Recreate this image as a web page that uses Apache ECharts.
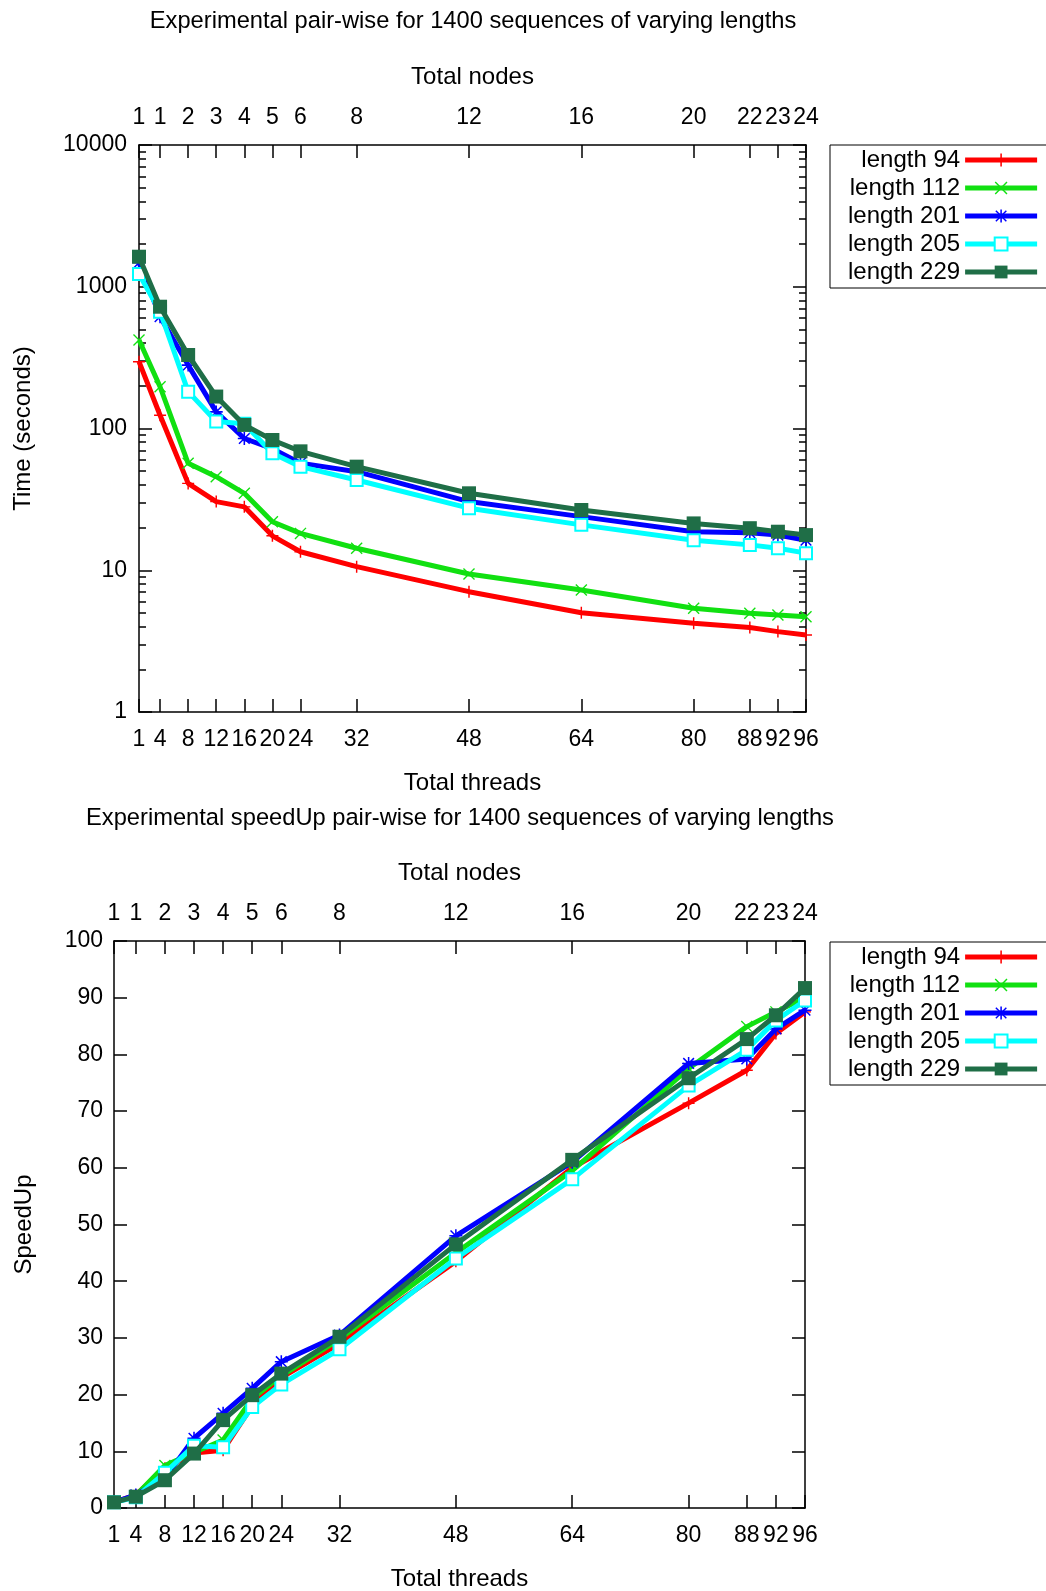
<!DOCTYPE html>
<html><head><meta charset="utf-8">
<script src="https://cdn.jsdelivr.net/npm/echarts@6/dist/echarts.min.js"></script>
<style>html,body{margin:0;padding:0;background:#fff}#c{width:1046px;height:1591px}</style>
</head><body><div id="c"></div>
<script>
// ---- data ----
const threads = [1, 4, 8, 12, 16, 20, 24, 32, 48, 64, 80, 88, 92, 96];
const nodes   = [1, 1, 2, 3, 4, 5, 6, 8, 12, 16, 20, 22, 23, 24];
const seriesNames = ['length 94', 'length 112', 'length 201', 'length 205', 'length 229'];

const time94  = [296, 124, 41, 30.5, 28, 17.5, 13.5, 10.6, 7.06, 5.02, 4.23, 3.94, 3.69, 3.49];
const time112 = [421, 197, 56.8, 45.7, 34.9, 22, 18.2, 14.3, 9.4, 7.26, 5.39, 4.97, 4.83, 4.7];
const time201 = [1480, 615, 280, 131, 85, 72, 57, 49.6, 30.5, 23.9, 18.7, 18.4, 17.7, 16.3];
const time205 = [1230, 667, 182, 112, 108, 66.8, 53.8, 43.3, 27.4, 20.9, 16.3, 15.1, 14.3, 13.2];
const time229 = [1629, 723, 330, 168, 106, 83, 69, 53.8, 34.9, 26.6, 21.4, 19.8, 18.7, 17.7];

const speed94  = [1, 2.3, 7.0, 9.7, 10.2, 18, 23, 29, 43.5, 60, 71.4, 77.2, 83.7, 87.5];
const speed112 = [1, 2.2, 7.5, 9.8, 12, 19.3, 23.3, 29.8, 45, 59.5, 77.5, 84.9, 87.5, 90];
const speed201 = [1, 2.3, 5.3, 12.3, 16.7, 21.1, 25.8, 30.5, 48, 61, 78.4, 79.2, 84.5, 87.8];
const speed205 = [1, 1.9, 6.2, 11, 10.7, 17.8, 21.8, 28, 44, 58, 74.5, 80.8, 86, 89.5];
const speed229 = [1, 2.0, 4.9, 9.6, 15.5, 19.9, 23.7, 30.2, 46.5, 61.4, 75.8, 82.7, 86.9, 91.7];

const timeTicks  = [1, 10, 100, 1000, 10000];
const timeMinorTicks = [2,3,4,5,6,7,8,9, 20,30,40,50,60,70,80,90, 200,300,400,500,600,700,800,900, 2000,3000,4000,5000,6000,7000,8000,9000];
const speedTicks = [0, 10, 20, 30, 40, 50, 60, 70, 80, 90, 100];

// ---- styles ----
const FONT = '"Liberation Sans", Arial, sans-serif';
const FS = 23;
const colors = ['#ff0000', '#11e011', '#0000ff', '#00ffff', '#1f6e47'];
const PLUS = 'path://M4.4,0H5.6V10H4.4Z M0,4.4H10V5.6H0Z';
const CROSS = 'path://M0,0.8L0.8,0L10,9.2L9.2,10Z M9.2,0L10,0.8L0.8,10L0,9.2Z';
const STAR = 'path://M4.4,0H5.6V10H4.4Z M0,4.4H10V5.6H0Z M0.5,1.3L1.3,0.5L9.5,8.7L8.7,9.5Z M8.7,0.5L9.5,1.3L1.3,9.5L0.5,8.7Z';
const symbols = [PLUS, CROSS, STAR, 'emptyRect', 'rect'];
const symbolSizes = [12, 12, 13, 12, 14];
const txt = {fontSize: FS, fontFamily: FONT, color: '#000'};
const nameTxt = {fontSize: 24, fontFamily: FONT, color: '#000'};
const axLine = {show: true, onZero: false, lineStyle: {color: '#000', width: 1.5}};
const tkStyle = {color: '#000', width: 1.5};

function xAxesFor(gi) {
  return [
    {type: 'value', gridIndex: gi, position: 'bottom', min: 1, max: 96,
     name: 'Total threads', nameLocation: 'middle', nameGap: 59, nameTextStyle: nameTxt,
     axisLine: axLine, splitLine: {show: false},
     axisTick: {show: true, inside: true, length: 13, customValues: threads, lineStyle: tkStyle},
     axisLabel: Object.assign({customValues: threads, margin: 16, formatter: v => String(v)}, txt)},
    {type: 'value', gridIndex: gi, position: 'top', min: 1, max: 96,
     name: 'Total nodes', nameLocation: 'middle', nameGap: 56, nameTextStyle: nameTxt,
     axisLine: axLine, splitLine: {show: false},
     axisTick: {show: true, inside: true, length: 13, customValues: threads, lineStyle: tkStyle},
     axisLabel: Object.assign({customValues: threads, margin: 16,
       formatter: v => String(nodes[threads.indexOf(v)])}, txt)}
  ];
}

const timeSets = [time94, time112, time201, time205, time229];
const speedSets = [speed94, speed112, speed201, speed205, speed229];

const series = [];
function addSeries(sets, xi, yi) {
  sets.forEach((arr, k) => {
    series.push({
      type: 'line', name: seriesNames[k], xAxisIndex: xi, yAxisIndex: yi,
      data: threads.map((t, i) => [t, arr[i]]),
      symbol: symbols[k], symbolSize: symbolSizes[k], showAllSymbol: true,
      lineStyle: {color: colors[k], width: 5},
      itemStyle: {color: colors[k], borderColor: colors[k], borderWidth: k === 3 ? 1.5 : 0},
      emphasis: {disabled: true}, z: 2 + k, clip: false
    });
  });
}
addSeries(timeSets, 0, 0);
addSeries(speedSets, 2, 4);

const legendBase = {
  orient: 'vertical', align: 'right', left: 830, padding: [3, 30, 4, 18],
  itemGap: 4, itemWidth: 72, itemHeight: 16, borderColor: '#000', borderWidth: 1,
  backgroundColor: '#fff', selectedMode: false,
  lineStyle: {width: 5},
  textStyle: {fontSize: 24, fontFamily: FONT, color: '#000'},
  data: seriesNames
};

const option = {
  animation: false,
  backgroundColor: '#fff',
  title: [
    {text: 'Experimental pair-wise for 1400 sequences of varying lengths', left: 473, top: 9,
     textAlign: 'center', padding: 0, textStyle: Object.assign({}, nameTxt, {fontSize: 23.7, fontWeight: 'normal'})},
    {text: 'Experimental speedUp pair-wise for 1400 sequences of varying lengths', left: 460, top: 806,
     textAlign: 'center', padding: 0, textStyle: Object.assign({}, nameTxt, {fontSize: 23.7, fontWeight: 'normal'})}
  ],
  legend: [Object.assign({top: 145}, legendBase), Object.assign({top: 942}, legendBase)],
  grid: [
    {left: 139, top: 145, width: 667, height: 567, outerBoundsMode: 'none', containLabel: false},
    {left: 114, top: 941, width: 691, height: 567, outerBoundsMode: 'none', containLabel: false}
  ],
  xAxis: [].concat(xAxesFor(0), xAxesFor(1)),
  yAxis: [
    {type: 'log', logBase: 10, gridIndex: 0, position: 'left', min: 1, max: 10000,
     name: 'Time (seconds)', nameLocation: 'middle', nameGap: 104, nameRotate: 90, nameTextStyle: nameTxt,
     axisLine: axLine, splitLine: {show: false},
     axisTick: {show: true, inside: true, length: 13, customValues: timeTicks, lineStyle: tkStyle},
     axisLabel: Object.assign({customValues: timeTicks, margin: 12, formatter: v => String(v)}, txt)},
    {type: 'log', logBase: 10, gridIndex: 0, position: 'left', min: 1, max: 10000,
     axisLine: {show: false}, splitLine: {show: false}, axisLabel: {show: false},
     axisTick: {show: true, inside: true, length: 7, customValues: timeMinorTicks, lineStyle: tkStyle}},
    {type: 'log', logBase: 10, gridIndex: 0, position: 'right', min: 1, max: 10000,
     axisLine: axLine, splitLine: {show: false}, axisLabel: {show: false},
     axisTick: {show: true, inside: true, length: 13, customValues: timeTicks, lineStyle: tkStyle}},
    {type: 'log', logBase: 10, gridIndex: 0, position: 'right', min: 1, max: 10000,
     axisLine: {show: false}, splitLine: {show: false}, axisLabel: {show: false},
     axisTick: {show: true, inside: true, length: 7, customValues: timeMinorTicks, lineStyle: tkStyle}},
    {type: 'value', gridIndex: 1, position: 'left', min: 0, max: 100, interval: 10,
     name: 'SpeedUp', nameLocation: 'middle', nameGap: 78, nameRotate: 90, nameTextStyle: nameTxt,
     axisLine: axLine, splitLine: {show: false},
     axisTick: {show: true, inside: true, length: 13, customValues: speedTicks, lineStyle: tkStyle},
     axisLabel: Object.assign({customValues: speedTicks, margin: 11}, txt)},
    {type: 'value', gridIndex: 1, position: 'right', min: 0, max: 100, interval: 10,
     axisLine: axLine, splitLine: {show: false}, axisLabel: {show: false},
     axisTick: {show: true, inside: true, length: 13, customValues: speedTicks, lineStyle: tkStyle}}
  ],
  series: series
};

const chart = echarts.init(document.getElementById('c'), null, {renderer: 'canvas'});
chart.setOption(option);
</script>
</body></html>
